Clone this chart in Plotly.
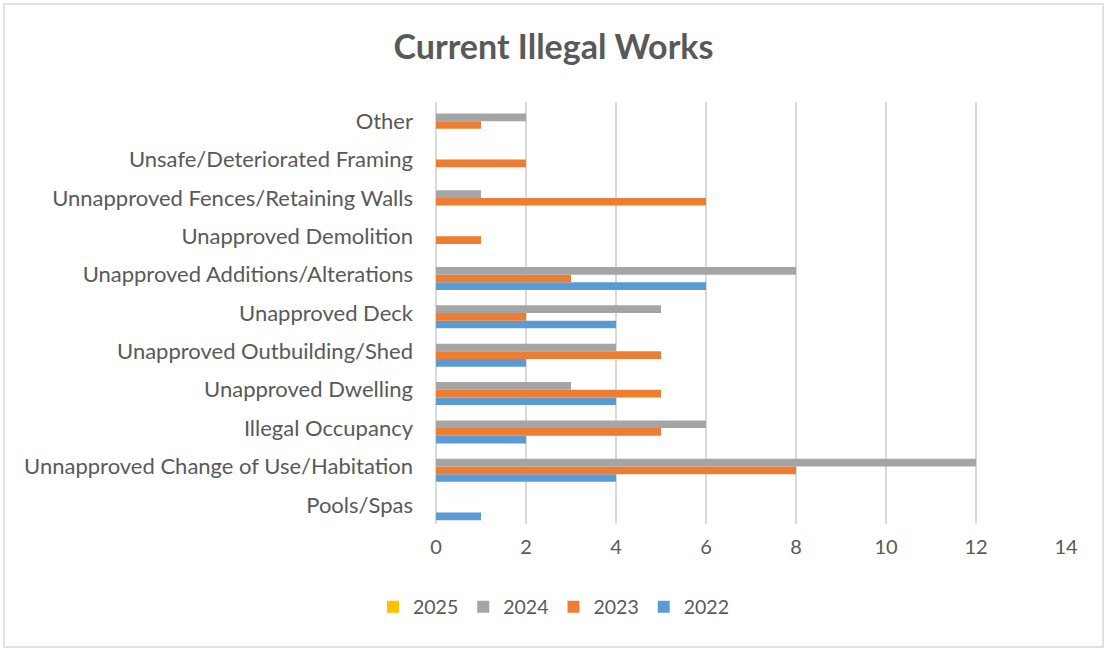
import plotly.graph_objects as go

categories = [
    "Pools/Spas",
    "Unnapproved Change of Use/Habitation",
    "Illegal Occupancy",
    "Unapproved Dwelling",
    "Unapproved Outbuilding/Shed",
    "Unapproved Deck",
    "Unapproved Additions/Alterations",
    "Unapproved Demolition",
    "Unnapproved Fences/Retaining Walls",
    "Unsafe/Deteriorated Framing",
    "Other",
]
v2022 = [1, 4, 2, 4, 2, 4, 6, None, None, None, None]
v2023 = [None, 8, 5, 5, 5, 2, 3, 1, 6, 2, 1]
v2024 = [None, 12, 6, 3, 4, 5, 8, None, 1, None, 2]
v2025 = [None] * 11
x_ticks = [0, 2, 4, 6, 8, 10, 12, 14]

series = [("2022", v2022, "#5b9bd5"), ("2023", v2023, "#ed7d31"),
          ("2024", v2024, "#a5a5a5"), ("2025", v2025, "#ffc000")]

FONT = "Lato"
fig = go.Figure()
for name, vals, col in series:
    fig.add_trace(go.Bar(y=categories, x=vals, name=name, orientation="h",
                         marker=dict(color=col, line=dict(width=0))))

L, R, T, B = 436, 1066, 102, 524
W, H = 1107, 651
pw, ph = R - L, B - T
fig.update_layout(
    width=W, height=H,
    margin=dict(l=L, r=W - R, t=T, b=H - B),
    paper_bgcolor="white", plot_bgcolor="white",
    barmode="group", bargap=0.2, bargroupgap=0,
    font=dict(family=FONT, size=20, color="#595959"),
    title=dict(text="<b>Current Illegal Works</b>", x=0.5, xanchor="center",
               xref="container", y=1 - 47 / H, yanchor="middle",
               font=dict(size=34, color="#595959", family=FONT)),
    legend=dict(orientation="h", traceorder="reversed", xref="container",
                yref="container", x=0.5, xanchor="center", y=1 - 607 / H,
                yanchor="middle", font=dict(size=19.5, color="#595959"),
                itemwidth=30),
    xaxis=dict(range=[0, 14], tickvals=x_ticks, showgrid=True,
               gridcolor="#d9d9d9", gridwidth=1.5, zeroline=True,
               zerolinecolor="#d9d9d9", zerolinewidth=1.5, showline=False,
               ticks="", ticklabelstandoff=9, tickfont=dict(size=20)),
    yaxis=dict(categoryorder="array", categoryarray=categories, showgrid=False,
               zeroline=False, showline=False, ticks="", ticklabelstandoff=22,
               tickfont=dict(size=22)),
    showlegend=True,
)
fig.add_shape(type="rect", xref="paper", yref="paper",
              x0=(4 - L) / pw, x1=(1103 - L) / pw,
              y0=(B - 647) / ph, y1=(B - 4) / ph,
              line=dict(color="#d9d9d9", width=1.5), layer="below")
fig.write_html("out.html")
